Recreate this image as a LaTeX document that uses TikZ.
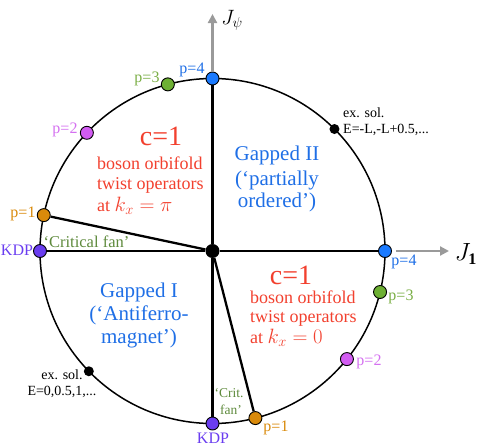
\documentclass[tikz,border=0pt]{standalone}
\usepackage{fontspec}
\setmainfont{Liberation Serif}
\usetikzlibrary{calc,arrows.meta}
\definecolor{cred}{HTML}{F2402E}
\definecolor{cblue}{HTML}{1F6FE6}
\definecolor{dblue}{HTML}{1A7AFF}
\definecolor{dgreen}{HTML}{6DB033}
\definecolor{tgreen}{HTML}{7AAE45}
\definecolor{fgreen}{HTML}{5E8A3C}
\definecolor{dmag}{HTML}{D25CF2}
\definecolor{tmag}{HTML}{D470F0}
\definecolor{dorange}{HTML}{D98A0B}
\definecolor{dpurple}{HTML}{6A3DF0}
\definecolor{cgray}{HTML}{9A9A9A}
\newcommand{\bigmath}[1]{{\fontsize{21}{21}\selectfont$#1$}}
\begin{document}
\begin{tikzpicture}[x=1pt,y=-1pt,
  rim/.style={line width=1.5pt},
  spoke/.style={line width=2.3pt},
  axisarrow/.style={draw=cgray,line width=2.2pt,-{Triangle[length=9pt,width=9pt]}},
  dotn/.style={circle,draw=black,line width=0.9pt,minimum size=13pt,inner sep=0pt},
  soln/.style={circle,fill=black,minimum size=10pt,inner sep=0pt},
  ctrn/.style={circle,fill=black,minimum size=14pt,inner sep=0pt},
  plab/.style={inner sep=0pt,font=\fontsize{16}{18}\selectfont},
  redbig/.style={inner sep=0pt,text=cred,font=\fontsize{28}{30}\selectfont},
  redtxt/.style={inner sep=0pt,anchor=west,text=cred,font=\fontsize{18}{21}\selectfont},
  bluetxt/.style={inner sep=0pt,text=cblue,font=\fontsize{21}{23}\selectfont},
  fantxt/.style={inner sep=0pt,text=fgreen},
  soltxt/.style={inner sep=0pt,font=\fontsize{14}{17}\selectfont}]
\useasboundingbox (0,0) rectangle (480,447);
\coordinate (O) at (212.5,251);
\draw[rim] (O) circle[radius=172.5pt];
% dots
\node[ctrn] (C) at (O) {};
\node[dotn,fill=dblue] (T4) at ($(O)+(90:172.5pt)$) {};
\node[dotn,fill=dgreen] (T3) at ($(O)+(105:172.5pt)$) {};
\node[dotn,fill=dmag] (T2) at ($(O)+(136.75:172.5pt)$) {};
\node[dotn,fill=dorange] (T1) at ($(O)+(168:172.5pt)$) {};
\node[dotn,fill=dpurple] (KL) at ($(O)+(180:172.5pt)$) {};
\node[soln] (EL) at ($(O)+(224.2:172.5pt)$) {};
\node[dotn,fill=dpurple] (KB) at ($(O)+(270:172.5pt)$) {};
\node[dotn,fill=dorange] (B1) at ($(O)+(-75.6:172.5pt)$) {};
\node[dotn,fill=dmag] (R2) at ($(O)+(-38.8:172.5pt)$) {};
\node[dotn,fill=dgreen] (R3) at ($(O)+(-13.75:172.5pt)$) {};
\node[dotn,fill=dblue] (R4) at ($(O)+(0:172.5pt)$) {};
\node[soln] (ER) at ($(O)+(45:172.5pt)$) {};
% spokes
\draw[spoke] (C) -- (T4);
\draw[spoke] (C) -- (R4);
\draw[spoke] (C) -- (KL);
\draw[spoke] (C) -- (KB);
\draw[spoke] (C) -- (T1);
\draw[spoke] (C) -- (B1);
% axes
\coordinate (JpsiTip) at (212.5,14);
\coordinate (JoneTip) at (449,251);
\draw[axisarrow] (T4) -- (JpsiTip);
\draw[axisarrow,shorten <=4pt] (R4) -- (JoneTip);
\node[inner sep=0pt,font=\fontsize{22}{24}\selectfont] (Jpsi) at (232,20) {$J_\psi$};
\node[inner sep=0pt,font=\fontsize{23}{25}\selectfont] (Jone) at (466,254) {$J_{\mathbf{1}}$};
% point labels
\node[plab,text=cblue] (lT4) at (192,70) {p=4};
\node[plab,text=tgreen] (lT3) at (147,79) {p=3};
\node[plab,text=tmag] (lT2) at (65,130) {p=2};
\node[plab,text=dorange] (lT1) at (23,214) {p=1};
\node[plab,text=dpurple] (lKL) at (17,250) {KDP};
\node[plab,text=cblue] (lR4) at (404,262) {p=4};
\node[plab,text=tgreen] (lR3) at (401,297) {p=3};
\node[plab,text=tmag] (lR2) at (369,362) {p=2};
\node[plab,text=dorange] (lB1) at (276,428) {p=1};
\node[plab,text=dpurple] (lKB) at (213,438.5) {KDP};
% red blocks
\node[redbig] (c1a) at (161,136) {c=1};
\node[redtxt] (ra1) at (97,163) {boson orbifold};
\node[redtxt] (ra2) at (97,185) {twist operators};
\node[redtxt] (ra3) at (97,206) {at \bigmath{k_x=\pi}};
\node[redbig] (c1b) at (291,275) {c=1};
\node[redtxt] (rb1) at (250,297) {boson orbifold};
\node[redtxt] (rb2) at (250,318) {twist operators};
\node[redtxt] (rb3) at (250,338) {at \bigmath{k_x=0}};
% blue blocks
\node[bluetxt] (g2a) at (277,155) {Gapped II};
\node[bluetxt] (g2b) at (277,180) {(`partially};
\node[bluetxt] (g2c) at (277,202) {ordered')};
\node[bluetxt] (g1a) at (139,292) {Gapped I};
\node[bluetxt] (g1b) at (139,315) {(`Antiferro-};
\node[bluetxt] (g1c) at (139,338) {magnet')};
% fans
\node[fantxt,font=\fontsize{16.5}{18}\selectfont] (fanL) at (86.5,242) {`Critical fan'};
\node[fantxt,font=\fontsize{13.5}{16}\selectfont] (fanB1) at (229,393) {`Crit.};
\node[fantxt,font=\fontsize{13.5}{16}\selectfont] (fanB2) at (231,410) {fan'};
% exact solutions
\node[soltxt,anchor=west] (sR1) at (343,113) {ex. sol.};
\node[soltxt,anchor=west] (sR2) at (343,130) {E=-L,-L+0.5,...};
\node[soltxt] (sL1) at (62,375) {ex. sol.};
\node[soltxt] (sL2) at (62,392) {E=0,0.5,1,...};
\end{tikzpicture}
\end{document}
